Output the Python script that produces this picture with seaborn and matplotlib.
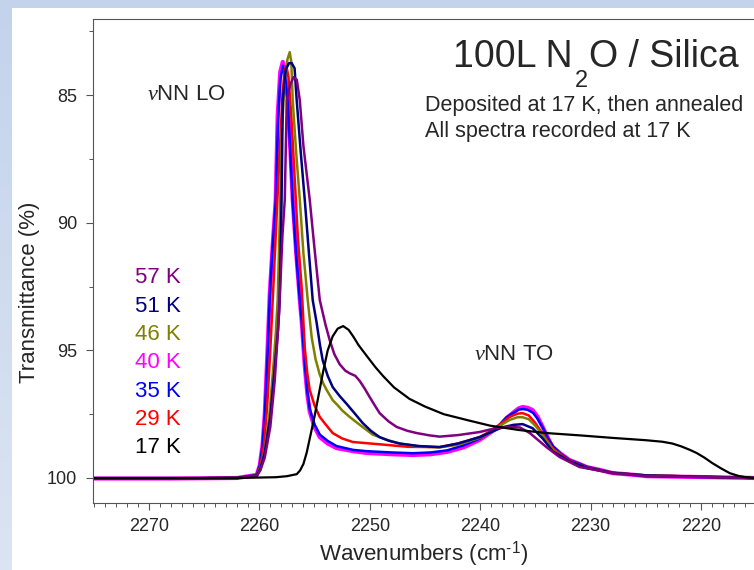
import matplotlib.pyplot as plt
import matplotlib.ticker as mticker
from matplotlib.patches import Rectangle
from matplotlib.transforms import offset_copy
import numpy as np
import seaborn as sns

# spectra: wavenumber (cm-1) and transmittance (%)
wn_17 = [2275.1, 2268, 2262, 2258.5, 2257.5, 2256.6, 2256.3, 2256.0, 2255.7, 2255.4, 2255.0, 2254.6,
         2254.2, 2253.8, 2253.35, 2252.9, 2252.4, 2251.9, 2251.5, 2251.0, 2250.3, 2249.5, 2248.8,
         2247.8, 2246.4, 2245.0, 2243.3, 2241.0, 2239.1, 2236.5, 2234.0, 2231.0, 2228.0, 2225.0,
         2223.5, 2222.6, 2221.8, 2221.0, 2220.4, 2219.7, 2219.0, 2218.2, 2217.4, 2216.6, 2215.9, 2215.2]
tr_17 = [100.0, 100.0, 100.0, 99.97, 99.93, 99.85, 99.7, 99.45, 99.0, 98.4, 97.6, 96.7,
         95.8, 95.0, 94.45, 94.15, 94.05, 94.2, 94.45, 94.8, 95.2, 95.65, 96.0,
         96.45, 96.9, 97.2, 97.5, 97.75, 97.95, 98.12, 98.24, 98.33, 98.43, 98.52,
         98.58, 98.65, 98.76, 98.9, 99.02, 99.2, 99.41, 99.62, 99.81, 99.92, 99.97, 100.0]

wn_29 = [2275.1, 2268, 2262, 2260.23, 2259.9, 2259.6, 2259.3, 2259.0, 2258.7, 2258.4, 2258.1, 2257.9,
         2257.7, 2257.55, 2257.35, 2257.1, 2256.8, 2256.5, 2256.15, 2256.0, 2255.88, 2255.65, 2255.43,
         2255.0, 2254.52, 2253.9, 2253.35, 2252.5, 2251.54, 2249.1, 2246.5, 2243.67, 2242.0, 2240.05,
         2239.0, 2238.2, 2237.3, 2236.6, 2236.15, 2235.6, 2235.0, 2234.3, 2233.4, 2232.5, 2231.9, 2230.4,
         2228.0, 2225.0, 2220.0, 2215.2]
tr_29 = [100.02, 100.02, 100.0, 99.9, 99.55, 98.8, 97.3, 95.0, 92.3, 89.5, 86.8, 85.0,
         84.0, 83.85, 84.3, 85.8, 88.2, 90.6, 92.6, 93.9, 94.9, 95.9, 96.55,
         97.15, 97.61, 97.95, 98.24, 98.45, 98.59, 98.68, 98.78, 98.79, 98.65, 98.4,
         98.15, 97.9, 97.6, 97.48, 97.46, 97.55, 97.85, 98.3, 98.85, 99.15, 99.32, 99.58,
         99.8, 99.9, 99.95, 100.0]

wn_35 = [2275.1, 2268, 2262, 2260.23, 2259.95, 2259.7, 2259.5, 2259.25, 2259.05, 2258.8, 2258.51,
         2258.3, 2258.1, 2257.85, 2257.65, 2257.42, 2257.2, 2256.97, 2256.65, 2256.33, 2256.15, 2255.88,
         2255.65, 2255.43, 2255.0, 2254.52, 2253.8, 2253.0, 2251.5, 2250.27, 2248.0, 2246.1, 2244.5,
         2243.0, 2241.5, 2240.0, 2239.0, 2238.2, 2237.6, 2237.0, 2236.5, 2236.1, 2235.7, 2235.2, 2234.8,
         2234.3, 2233.9, 2233.4, 2232.7, 2231.9, 2231.0, 2230.3, 2229.0, 2228.0, 2226.0, 2224.9, 2222.0,
         2219.0, 2215.2]
tr_35 = [100.02, 100.02, 100.0, 99.88, 99.5, 98.7, 97.5, 95.2, 92.9, 91.0, 89.2,
         86.0, 84.4, 83.85, 84.3, 85.3, 87.1, 89.2, 91.3, 93.0, 93.9, 95.5,
         96.6, 97.3, 97.9, 98.3, 98.55, 98.75, 98.9, 98.95, 99.0, 99.03, 99.0,
         98.92, 98.72, 98.45, 98.18, 97.9, 97.62, 97.45, 97.32, 97.3, 97.33, 97.45, 97.68,
         98.05, 98.42, 98.75, 99.05, 99.3, 99.45, 99.57, 99.7, 99.8, 99.88, 99.93, 99.95,
         99.97, 100.0]

wn_40 = [2275.1, 2268, 2262, 2260.23, 2259.95, 2259.7, 2259.5, 2259.25, 2259.05, 2258.8, 2258.51,
         2258.33, 2258.1, 2257.87, 2257.65, 2257.42, 2257.2, 2256.97, 2256.65, 2256.33, 2256.15, 2255.88,
         2255.65, 2255.43, 2255.0, 2254.52, 2253.8, 2253.0, 2251.5, 2250.27, 2248.0, 2246.1, 2244.5,
         2243.0, 2241.5, 2240.05, 2239.0, 2238.24, 2237.6, 2237.06, 2236.5, 2236.15, 2235.7, 2235.25,
         2234.8, 2234.34, 2233.9, 2233.44, 2232.7, 2231.9, 2231.0, 2230.36, 2229.0, 2228.0, 2226.0,
         2224.93, 2222.0, 2219.0, 2215.2]
tr_40 = [100.02, 100.02, 100.0, 99.88, 99.5, 98.7, 97.5, 95.0, 92.8, 91.0, 89.1,
         85.8, 84.1, 83.7, 84.2, 85.2, 87.0, 89.1, 91.2, 93.0, 93.9, 95.6,
         96.7, 97.4, 98.0, 98.4, 98.65, 98.83, 98.95, 99.02, 99.07, 99.1, 99.07,
         98.98, 98.8, 98.51, 98.2, 97.96, 97.65, 97.46, 97.27, 97.22, 97.25, 97.34,
         97.6, 98.0, 98.4, 98.79, 99.05, 99.3, 99.45, 99.57, 99.7, 99.81, 99.88,
         99.93, 99.95, 99.97, 100.0]

wn_46 = [2275.1, 2268, 2262, 2260.23, 2259.9, 2259.5, 2259.1, 2258.7, 2258.5, 2258.33, 2258.15,
         2257.96, 2257.7, 2257.45, 2257.24, 2257.1, 2256.97, 2256.65, 2256.33, 2256.0, 2255.61, 2255.25,
         2254.9, 2254.52, 2254.2, 2253.9, 2253.35, 2252.9, 2252.5, 2251.81, 2250.8, 2249.73, 2248.5,
         2247.29, 2245.5, 2243.67, 2242.0, 2240.05, 2239.0, 2238.2, 2237.3, 2236.6, 2236.15, 2235.6,
         2235.0, 2234.3, 2233.4, 2232.5, 2231.9, 2230.4, 2228.0, 2225.0, 2220.0, 2215.2]
tr_46 = [100.02, 100.02, 100.0, 99.9, 99.6, 98.9, 97.6, 95.5, 94.3, 93.0, 90.0,
         86.5, 84.5, 83.6, 83.32, 83.7, 85.2, 87.3, 89.1, 91.2, 93.03, 94.5,
         95.35, 95.95, 96.3, 96.55, 96.95, 97.15, 97.35, 97.61, 97.95, 98.3, 98.5,
         98.65, 98.77, 98.8, 98.7, 98.43, 98.2, 97.95, 97.72, 97.62, 97.62, 97.7,
         97.95, 98.35, 98.9, 99.2, 99.35, 99.6, 99.8, 99.9, 99.95, 100.0]

wn_51 = [2275.1, 2268, 2262, 2260.23, 2259.9, 2259.5, 2259.0, 2258.6, 2258.3, 2258.15, 2257.98,
         2257.87, 2257.6, 2257.3, 2257.06, 2256.8, 2256.61, 2256.25, 2255.88, 2255.5, 2255.16, 2254.8,
         2254.5, 2254.25, 2253.8, 2253.35, 2252.7, 2252.08, 2251.3, 2250.63, 2249.9, 2249.1, 2248.2,
         2247.29, 2245.5, 2243.67, 2242.0, 2240.05, 2239.0, 2238.0, 2237.0, 2236.15, 2235.25, 2234.34,
         2233.44, 2231.9, 2230.36, 2228.0, 2225.0, 2220.0, 2215.2]
tr_51 = [100.02, 100.02, 100.0, 99.9, 99.65, 99.0, 97.6, 95.7, 94.2, 93.0, 89.1,
         85.2, 84.0, 83.75, 83.75, 83.95, 85.2, 87.2, 89.1, 91.2, 93.03, 93.93,
         94.8, 95.4, 96.0, 96.44, 96.8, 97.1, 97.5, 97.85, 98.15, 98.4, 98.55,
         98.65, 98.75, 98.79, 98.65, 98.4, 98.2, 98.02, 97.92, 97.89, 98.05, 98.45,
         98.95, 99.35, 99.6, 99.8, 99.9, 99.95, 100.0]

wn_57 = [2275.1, 2268, 2262, 2260.23, 2259.9, 2259.5, 2259.0, 2258.6, 2258.2, 2257.9, 2257.69,
         2257.51, 2257.2, 2256.9, 2256.6, 2256.33, 2256.0, 2255.43, 2255.0, 2254.52, 2254.0, 2253.62,
         2253.2, 2252.71, 2252.2, 2251.81, 2251.3, 2250.9, 2250.45, 2250.0, 2249.55, 2249.1, 2248.3,
         2247.56, 2246.6, 2245.75, 2244.6, 2243.67, 2242.0, 2240.05, 2238.5, 2237.6, 2236.4, 2235.5,
         2234.0, 2232.8, 2231.0, 2228.0, 2225.0, 2220.0, 2215.2]
tr_57 = [100.02, 100.02, 100.0, 99.92, 99.7, 99.2, 98.0, 96.2, 93.5, 90.5, 89.1,
         85.2, 84.6, 84.3, 84.4, 85.2, 87.0, 89.1, 91.0, 93.03, 94.0, 94.6,
         95.15, 95.55, 95.8, 95.9, 96.0, 96.2, 96.5, 96.83, 97.15, 97.46, 97.78,
         98.0, 98.15, 98.24, 98.33, 98.38, 98.32, 98.2, 98.04, 98.0, 98.02, 98.24,
         98.79, 99.18, 99.57, 99.81, 99.92, 99.96, 100.0]

# drawing order: bottom to top
series = [('40 K', wn_40, tr_40, '#ff00ff', 3.0),
          ('35 K', wn_35, tr_35, '#0000ff', 1.8),
          ('29 K', wn_29, tr_29, '#ff0000', 1.8),
          ('46 K', wn_46, tr_46, '#808000', 1.8),
          ('51 K', wn_51, tr_51, '#000080', 1.8),
          ('57 K', wn_57, tr_57, '#800080', 1.8),
          ('17 K', wn_17, tr_17, '#000000', 1.6)]

temp_labels = ['57 K', '51 K', '46 K', '40 K', '35 K', '29 K', '17 K']
temp_colors = ['#800080', '#000080', '#808000', '#ff00ff', '#0000ff', '#ff0000', '#000000']

sns.set_style('ticks')
plt.rcParams['font.family'] = ['Liberation Sans', 'DejaVu Sans']
plt.rcParams['mathtext.fontset'] = 'custom'
plt.rcParams['mathtext.rm'] = 'Liberation Sans'
plt.rcParams['mathtext.it'] = 'Liberation Serif:italic'

W, H = 754, 570
fig = plt.figure(figsize=(W / 100, H / 100), dpi=100)

# light blue slide frame with a white panel
bg = fig.add_axes([0, 0, 1, 1], zorder=-10)
t = np.linspace(0, 1, 200)[:, None, None]
top_c = np.array([0.765, 0.828, 0.925])
bot_c = np.array([0.860, 0.895, 0.950])
bg.imshow(top_c * (1 - t) + bot_c * t, extent=[0, 1, 0, 1], aspect='auto')
bg.add_patch(Rectangle((12 / W, 0), 1, 1 - 8 / H, transform=bg.transAxes,
                       facecolor='white', edgecolor='none'))
bg.set_xlim(0, 1)
bg.set_ylim(0, 1)
bg.axis('off')

left, right, top, bottom = 92.5, 754, 19, 503
ax = fig.add_axes([left / W, 1 - bottom / H, (right - left) / W, (bottom - top) / H])
ax.set_facecolor('none')

for name, wn, tr, col, lw in series:
    sns.lineplot(x=wn, y=tr, ax=ax, color=col, linewidth=lw, sort=False, estimator=None)

ax.set_xlim(2275.1, 2215.2)
ax.set_ylim(100.98, 82.02)
ax.xaxis.set_major_locator(mticker.MultipleLocator(10))
ax.xaxis.set_minor_locator(mticker.MultipleLocator(1))
ax.yaxis.set_major_locator(mticker.MultipleLocator(5))
ax.yaxis.set_minor_locator(mticker.MultipleLocator(2.5))
ax.tick_params(which='major', direction='out', length=5, width=0.8, color='#555555',
               labelsize=13, pad=6)
ax.tick_params(which='minor', direction='out', length=3, width=0.7, color='#555555')
ax.spines['right'].set_visible(False)
for s in ['left', 'bottom', 'top']:
    ax.spines[s].set_color('#555555')
    ax.spines[s].set_linewidth(0.8)

ax.set_xlabel(r'Wavenumbers (cm$^{\text{-1}}$)', fontsize=16, labelpad=3)
ax.set_ylabel('')
fig.text(30 / W, 1 - 292 / H, 'Transmittance (%)', rotation=90, fontsize=16,
         ha='center', va='center')

for i, (lab, col) in enumerate(zip(temp_labels, temp_colors)):
    ax.text(0.064, 0.465 - i * 0.0585, lab, color=col, fontsize=16,
            ha='left', va='center', transform=ax.transAxes)

ax.text(0.082, 0.843, r'$\nu$NN LO', fontsize=16, ha='left', va='center', transform=ax.transAxes)
ax.text(0.577, 0.306, r'$\nu$NN TO', fontsize=16, ha='left', va='center', transform=ax.transAxes)

# title with a low, large subscript 2 like the original slide
tx, ty = 0.545, 0.901
t1 = ax.text(tx, ty, '100L N', fontsize=27, ha='left', va='baseline', transform=ax.transAxes)
fig.canvas.draw()
w1 = t1.get_window_extent().width
t2 = ax.text(tx, ty, '2', fontsize=17, ha='left', va='baseline',
             transform=offset_copy(ax.transAxes, fig=fig, x=w1 + 2, y=-20, units='dots'))
fig.canvas.draw()
w2 = t2.get_window_extent().width
ax.text(tx, ty, 'O / Silica', fontsize=27, ha='left', va='baseline',
        transform=offset_copy(ax.transAxes, fig=fig, x=w1 + w2 + 3, y=0, units='dots'))

ax.text(0.503, 0.822, 'Deposited at 17 K, then annealed', fontsize=15.5,
        ha='left', va='center', transform=ax.transAxes)
ax.text(0.503, 0.768, 'All spectra recorded at 17 K', fontsize=15.5,
        ha='left', va='center', transform=ax.transAxes)

fig.savefig('out.png', dpi=100)
